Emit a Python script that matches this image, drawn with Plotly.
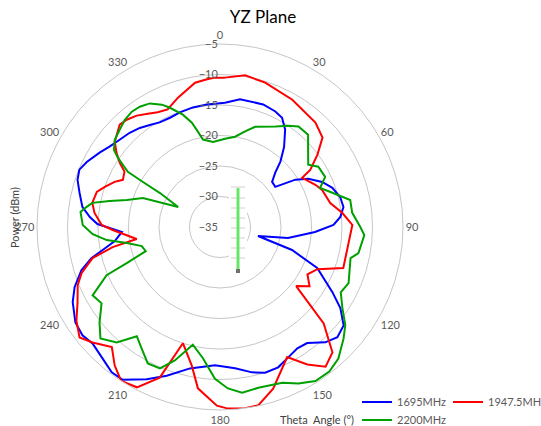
import plotly.graph_objects as go

W, H = 541, 426

# ---- data (theta in degrees, power in dBm) ----
blue_name = "1695MHz"
blue_theta = [2.3, 8.9, 19.4, 25.6, 29.6, 33.8, 38.7, 42.7, 45.5, 49.1, 54.0, 57.9, 61.4, 66.2, 70.8, 76.0,
              80.8, 85.2, 89.0, 93.0, 99.2, 103.3, 107.7, 112.9, 120.1, 124.0, 128.5, 133.2, 137.6, 143.1,
              147.5, 152.9, 157.5, 162.8, 167.6, 173.9, 182.1, 192.0, 199.7, 205.7, 212.5, 216.7, 221.8,
              227.6, 231.8, 236.6, 243.0, 247.5, 252.7, 256.4, 258.9, 262.4, 267.1, 269.5, 271.4, 274.4,
              278.3, 283.7, 288.3, 292.2, 296.0, 301.7, 306.0, 311.0, 316.2, 321.0, 325.5, 330.0, 335.4,
              340.7, 347.2, 353.9]
blue_r = [-14.6, -13.8, -13.7, -14.0, -14.4, -15.8, -18.2, -20.4, -22.3, -23.7, -23.8, -20.4, -18.5, -16.7,
          -15.5, -14.7, -14.5, -15.2, -16.4, -19.4, -23.7, -28.6, -22.6, -17.7, -13.7, -11.2, -9.1, -8.6,
          -9.4, -11.2, -11.4, -10.8, -10.1, -10.0, -10.6, -11.7, -12.3, -11.3, -9.1, -7.3, -5.3, -5.3,
          -6.1, -6.7, -6.3, -6.6, -7.9, -9.2, -11.2, -13.3, -15.4, -17.6, -18.9, -16.9, -14.9, -13.6,
          -12.2, -11.3, -10.4, -10.1, -10.7, -11.8, -12.6, -13.2, -13.6, -14.1, -14.7, -15.2, -15.3,
          -15.1, -14.9, -14.8]

red_name = "1947.5MHz"
red_theta = [1.9, 9.4, 17.4, 29.6, 42.4, 48.9, 53.4, 57.7, 59.1, 66.1, 70.1, 77.7, 83.5, 89.1, 108.4,
             113.4, 118.4, 123.5, 127.8, 132.9, 138.1, 142.9, 147.6, 152.7, 161.8, 167.9, 172.1, 177.5,
             181.0, 187.8, 191.5, 197.7, 201.8, 207.4, 212.7, 217.3, 222.0, 227.8, 231.8, 236.9, 242.2,
             247.8, 251.6, 256.3, 259.4, 261.8, 268.4, 271.0, 276.4, 280.7, 285.9, 289.2, 293.2, 295.9,
             300.1, 302.6, 305.7, 309.0, 311.8, 315.6, 319.0, 323.2, 327.5, 331.5, 336.0, 342.0, 350.2,
             355.0, 358.1]
red_r = [-10.5, -9.8, -10.2, -11.0, -11.8, -12.7, -15.1, -17.5, -19.3, -17.9, -17.2, -16.5, -14.8, -13.3,
         -13.7, -17.6, -18.7, -17.4, -19.2, -11.8, -7.4, -6.3, -8.3, -11.0, -7.1, -5.1, -5.0, -5.2, -5.7,
         -8.3, -11.8, -15.0, -8.4, -5.4, -5.0, -6.5, -8.5, -6.8, -5.7, -6.9, -8.6, -9.8, -11.1, -13.5,
         -17.1, -21.2, -17.4, -15.6, -14.3, -13.7, -14.0, -15.0, -16.2, -17.3, -16.9, -15.5, -14.1,
         -12.8, -12.3, -11.5, -11.7, -12.2, -13.0, -13.6, -13.9, -12.7, -11.0, -10.7, -10.5]

green_name = "2200MHz"
green_theta = [3.3, 9.5, 14.7, 19.3, 28.8, 34.0, 38.0, 43.7, 48.8, 54.8, 58.5, 64.5, 68.7, 72.4, 78.3,
               83.9, 90.0, 93.2, 100.7, 103.4, 113.6, 118.4, 123.6, 128.1, 132.1, 138.0, 142.9, 148.2,
               153.4, 158.2, 166.6, 172.4, 177.2, 181.9, 187.4, 193.0, 198.7, 203.0, 207.9, 212.8, 217.3,
               221.8, 227.0, 231.6, 237.2, 241.8, 244.2, 247.0, 248.8, 252.0, 256.3, 260.2, 263.4, 266.8,
               270.8, 276.2, 278.6, 280.7, 283.3, 286.2, 290.6, 295.5, 299.5, 300.3, 300.9, 302.6, 304.1,
               306.0, 309.6, 314.1, 318.4, 322.6, 326.3, 330.4, 334.6, 337.2, 341.7, 344.9, 347.0, 349.0,
               355.3]
green_r = [-20.5, -20.0, -18.8, -17.6, -16.2, -15.0, -14.1, -14.1, -15.8, -17.3, -16.1, -15.9, -17.4,
           -16.0, -13.2, -13.2, -12.0, -11.3, -11.9, -13.0, -12.0, -12.5, -10.9, -8.9, -7.7, -6.0, -5.3,
           -5.3, -6.3, -7.5, -7.9, -7.6, -8.5, -10.1, -13.3, -15.2, -11.9, -9.8, -9.7, -11.3, -12.5,
           -9.6, -8.2, -9.8, -11.9, -11.3, -13.1, -14.8, -18.6, -22.2, -21.8, -19.5, -16.3, -14.1,
           -12.5, -12.0, -12.9, -13.7, -16.4, -19.1, -21.5, -27.4, -23.7, -20.3, -17.4, -16.1, -14.8,
           -13.5, -12.6, -12.1, -11.5, -11.2, -11.3, -11.7, -12.8, -13.8, -15.6, -17.3, -19.0, -20.4,
           -21.0]

angle_ticks = [0, 30, 60, 90, 120, 150, 180, 210, 240, 270, 300, 330]
radial_ticks = [-35, -30, -25, -20, -15, -10, -5]

FONT = "Lato, 'Open Sans', sans-serif"
GRID = "#C6C6C6"
TXT = "#595959"


def closed(a):
    return list(a) + [a[0]]


def px(x):
    return x / W


def py(y):
    return 1 - y / H


fig = go.Figure()
series = [(blue_name, blue_theta, blue_r, "#0000FF", "legend", 362, 402),
          (red_name, red_theta, red_r, "#FF0000", "legend2", 453, 402),
          (green_name, green_theta, green_r, "#00A000", "legend3", 362, 420)]
for name, th, rr, col, lg, _, _ in series:
    fig.add_trace(go.Scatterpolar(theta=closed(th), r=closed(rr), mode="lines", name=name,
                                  line=dict(color=col, width=2), legend=lg))

legends = {}
for name, th, rr, col, lg, lx, ly in series:
    legends[lg] = dict(x=px(lx - 5), xanchor="left", y=py(ly), yanchor="middle",
                       font=dict(size=11, color=TXT, family=FONT), bgcolor="rgba(0,0,0,0)",
                       itemwidth=30, borderwidth=0)

cx, cy, R = 220, 227, 183
fig.update_layout(
    width=W, height=H,
    margin=dict(l=0, r=0, t=0, b=0, pad=0, autoexpand=False),
    paper_bgcolor="white",
    font=dict(family=FONT, size=11, color=TXT),
    title=dict(text="YZ Plane", x=263 / W, xanchor="center", y=1 - 17 / H, yanchor="middle",
               yref="container", font=dict(size=17, color="#000000", family=FONT)),
    polar=dict(
        domain=dict(x=[px(cx - R), px(cx + R)], y=[py(cy + R), py(cy - R)]),
        bgcolor="white",
        radialaxis=dict(range=[-35, -5], tickvals=radial_ticks, angle=90, tickangle=90,
                        side="counterclockwise", showline=False, ticks="",
                        gridcolor=GRID, gridwidth=1, tickfont=dict(size=11, color=TXT)),
        angularaxis=dict(rotation=90, direction="clockwise", tickvals=angle_ticks,
                         showgrid=False, showline=True, linecolor=GRID, linewidth=1,
                         ticks="", tickfont=dict(size=11, color=TXT)),
    ),
    showlegend=True,
    **legends,
)

fig.add_annotation(text="Power (dBm)", x=px(15), y=py(218), xref="paper", yref="paper",
                   xanchor="center", yanchor="middle",
                   showarrow=False, textangle=-90, font=dict(size=11, color="#404040"))
fig.add_annotation(text="Theta  Angle (°)", x=px(317), y=py(419), xref="paper", yref="paper",
                   xanchor="center", yanchor="middle",
                   showarrow=False, font=dict(size=11, color="#404040"))

# small scroll-like marker drawn in the middle of the original picture
shapes = [dict(type="rect", xref="paper", yref="paper", x0=px(229), x1=px(247), y0=py(275), y1=py(184),
               fillcolor="white", line=dict(width=0), layer="above")]
for ty in [187, 198, 208, 218, 228, 238, 248, 258]:
    shapes.append(dict(type="line", xref="paper", yref="paper", x0=px(231), x1=px(245), y0=py(ty), y1=py(ty),
                       line=dict(color="#D0D0D0", width=1), layer="above"))
shapes.append(dict(type="line", xref="paper", yref="paper", x0=px(238), x1=px(238), y0=py(188), y1=py(269),
                   line=dict(color="#66E866", width=3), layer="above"))
shapes.append(dict(type="rect", xref="paper", yref="paper", x0=px(236), x1=px(240), y0=py(273), y1=py(269),
                   fillcolor="#707070", line=dict(width=0), layer="above"))
fig.update_layout(shapes=shapes)

fig.write_html("out.html", config={"displayModeBar": False},
               post_script="document.body.style.margin='0';")
